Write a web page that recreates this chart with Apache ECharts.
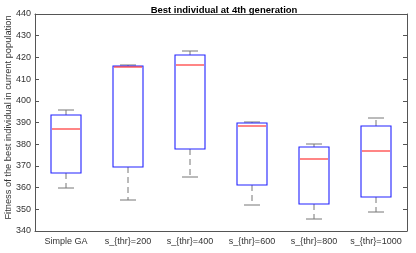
<!DOCTYPE html>
<html><head><meta charset="utf-8">
<script src="https://cdn.jsdelivr.net/npm/echarts@6/dist/echarts.min.js"></script>
<style>html,body{margin:0;padding:0;background:#fff}#c{width:416px;height:253px}</style>
</head><body><div id="c"></div>
<script>
const categories = ['Simple GA','s_{thr}=200','s_{thr}=400','s_{thr}=600','s_{thr}=800','s_{thr}=1000'];
const lowerWhisker = [359.6, 354.1, 364.8, 352.0, 345.4, 348.6];
const q1 = [366.5, 369.6, 377.8, 361.3, 352.3, 355.5];
const median = [386.9, 415.4, 416.6, 388.4, 373.0, 376.8];
const q3 = [393.5, 416.2, 421.2, 389.7, 378.5, 388.4];
const upperWhisker = [395.8, 416.6, 422.9, 390.1, 380.3, 392.3];
const yTicks = [340, 350, 360, 370, 380, 390, 400, 410, 420, 430, 440];

const data = categories.map((c, i) => [i, lowerWhisker[i], q1[i], median[i], q3[i], upperWhisker[i]]);
const FONT = '"Liberation Sans", Arial, sans-serif';
const axisCol = '#555';
const chart = echarts.init(document.getElementById('c'), null, {renderer: 'canvas'});
const r = v => Math.round(v);

function geom(api) {
  const i = api.value(0);
  const pLo = api.coord([i, api.value(1)]);
  const band = api.size([1, 0])[0];
  return {
    cx: r(pLo[0]),
    x0: r(pLo[0] - band * 0.24), x1: r(pLo[0] + band * 0.24),
    c0: r(pLo[0] - band * 0.13), c1: r(pLo[0] + band * 0.13),
    lo: r(pLo[1]),
    q1: r(api.coord([i, api.value(2)])[1]),
    med: r(api.coord([i, api.value(3)])[1]),
    q3: r(api.coord([i, api.value(4)])[1]),
    hi: r(api.coord([i, api.value(5)])[1])
  };
}
function mk(render, z, color) {
  return {type: 'custom', data: data, z: z, encode: {x: 0, y: [1, 2, 3, 4, 5]}, renderItem: render, silent: true,
    itemStyle: {color: color, borderColor: color}};
}
const wCol = '#777';
chart.setOption({
  animation: false,
  title: {text: 'Best individual at 4th generation', left: 219, top: 0, textAlign: 'center',
    textStyle: {fontFamily: FONT, fontSize: 9.5, fontWeight: 'bold', color: '#000'}},
  grid: {left: 35, right: 9, top: 14, bottom: 22, containLabel: false, outerBoundsMode: 'none'},
  xAxis: [{
    type: 'category', data: categories, position: 'bottom',
    axisLine: {lineStyle: {color: axisCol}},
    axisTick: {inside: true, alignWithLabel: true, length: 4, lineStyle: {color: axisCol}},
    axisLabel: {fontFamily: FONT, fontSize: 9, color: '#333', margin: 6, interval: 0}
  }, {
    type: 'category', data: categories, position: 'top',
    axisLine: {lineStyle: {color: axisCol}},
    axisTick: {inside: true, alignWithLabel: true, length: 4, lineStyle: {color: axisCol}},
    axisLabel: {show: false}
  }],
  yAxis: [{
    type: 'value', min: yTicks[0], max: yTicks[yTicks.length - 1], interval: 10,
    name: 'Fitness of the best individual in current population',
    nameLocation: 'middle', nameGap: 22, nameMoveOverlap: false,
    nameTextStyle: {fontFamily: FONT, fontSize: 9.3, color: '#333', padding: [0, 0, 0, 10]},
    axisLine: {show: true, lineStyle: {color: axisCol}},
    axisTick: {show: true, inside: true, length: 4, lineStyle: {color: axisCol}},
    axisLabel: {fontFamily: FONT, fontSize: 9, color: '#333', margin: 4},
    splitLine: {show: false}
  }, {
    type: 'value', min: yTicks[0], max: yTicks[yTicks.length - 1], interval: 10, position: 'right',
    axisLine: {show: true, lineStyle: {color: axisCol}},
    axisTick: {show: true, inside: true, length: 4, lineStyle: {color: axisCol}},
    axisLabel: {show: false},
    splitLine: {show: false}
  }],
  series: [
    mk(function (p, api) {
      const g = geom(api);
      return {type: 'group', children: [
        {type: 'line', shape: {x1: g.cx, y1: g.q3, x2: g.cx, y2: g.hi}, style: {stroke: wCol, lineWidth: 1, lineDash: [6, 4]}},
        {type: 'line', shape: {x1: g.cx, y1: g.q1, x2: g.cx, y2: g.lo}, style: {stroke: wCol, lineWidth: 1, lineDash: [6, 4]}}
      ]};
    }, 2, wCol),
    mk(function (p, api) {
      const g = geom(api);
      return {type: 'group', children: [
        {type: 'line', shape: {x1: g.c0, y1: g.hi, x2: g.c1, y2: g.hi}, style: {stroke: wCol, lineWidth: 1}},
        {type: 'line', shape: {x1: g.c0, y1: g.lo, x2: g.c1, y2: g.lo}, style: {stroke: wCol, lineWidth: 1}}
      ]};
    }, 3, wCol),
    mk(function (p, api) {
      const g = geom(api);
      return {type: 'rect', shape: {x: g.x0, y: g.q3, width: g.x1 - g.x0, height: g.q1 - g.q3},
        style: {stroke: '#2222ff', lineWidth: 1.1, fill: 'none'}};
    }, 4, '#2222ff'),
    mk(function (p, api) {
      const g = geom(api);
      return {type: 'line', shape: {x1: g.x0 + 1, y1: g.med, x2: g.x1 - 1, y2: g.med},
        style: {stroke: '#ff2222', lineWidth: 1.1}};
    }, 5, '#ff2222')
  ]
});
</script></body></html>
